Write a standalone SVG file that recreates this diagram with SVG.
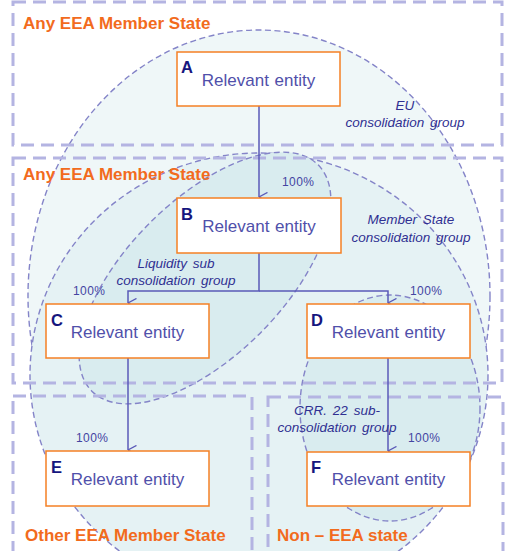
<svg xmlns="http://www.w3.org/2000/svg" width="506" height="551" viewBox="0 0 506 551">
  <defs>
    <style>
      .zone { fill: none; stroke: #b4b4e2; stroke-width: 3; stroke-dasharray: 13 7; }
      .grp { stroke: #8484c8; stroke-width: 1.4; stroke-dasharray: 6 3.5; }
      .box { fill: #ffffff; stroke: #f58025; stroke-width: 1.5; }
      .conn { fill: none; stroke: #5a5ab8; stroke-width: 1.5; }
      .title { font-family: "Liberation Sans", Arial, sans-serif; font-size: 17px; font-weight: bold; fill: #f26b1d; }
      .letter { font-family: "Liberation Sans", Arial, sans-serif; font-size: 16.5px; font-weight: bold; fill: #16167e; }
      .name { font-family: "Liberation Sans", Arial, sans-serif; font-size: 17px; fill: #5050aa; text-anchor: middle; word-spacing: 1px; }
      .pct { font-family: "Liberation Sans", Arial, sans-serif; font-size: 12px; fill: #4444a2; letter-spacing: 0.4px; }
      .lbl { font-family: "Liberation Sans", Arial, sans-serif; font-size: 13.5px; font-style: italic; fill: #303092; text-anchor: middle; word-spacing: 2px; }
    </style>
    <marker id="arrow" viewBox="0 0 10 10" refX="5" refY="10" markerWidth="10" markerHeight="10" markerUnits="userSpaceOnUse" orient="auto-start-reverse">
      <path d="M0.5,1.5 L5,10 L9.5,1.5" fill="none" stroke="#5a5ab8" stroke-width="1.4"/>
    </marker>
  </defs>

  <rect width="506" height="551" fill="#ffffff"/>

  <!-- consolidation groups -->
  <g id="groups">
    <ellipse id="eu-group" class="grp" cx="259" cy="296" rx="231" ry="266" fill="#eff7f8"/>
    <ellipse id="ms-group" class="grp" cx="259" cy="375" rx="229" ry="222" fill="#e5f2f4"/>
    <ellipse id="liquidity-group" class="grp" cx="0" cy="0" rx="160" ry="78" transform="translate(205 278) rotate(-45)" fill="#d9ecef"/>
    <ellipse id="crr-group" class="grp" cx="390" cy="408" rx="90" ry="113" fill="#d9ecef"/>
  </g>

  <!-- jurisdiction zones -->
  <g id="zones">
    <rect class="zone" x="13" y="2" width="489" height="143"/>
    <rect class="zone" x="13" y="158" width="489" height="225"/>
    <rect class="zone" x="13" y="396" width="239" height="170"/>
    <rect class="zone" x="268" y="397" width="235" height="170"/>
  </g>

  <!-- ownership links -->
  <g id="connectors">
    <line class="conn" x1="259" y1="106" x2="259" y2="197" marker-end="url(#arrow)"/>
    <polyline class="conn" points="259,253 259,291 128,291 128,303" marker-end="url(#arrow)"/>
    <polyline class="conn" points="259,291 388,291 388,303" marker-end="url(#arrow)"/>
    <line class="conn" x1="128" y1="358" x2="128" y2="450" marker-end="url(#arrow)"/>
    <line class="conn" x1="388" y1="358" x2="388" y2="451" marker-end="url(#arrow)"/>
  </g>

  <!-- entities -->
  <g id="entity-a">
    <rect class="box" x="177" y="52" width="163" height="54"/>
    <text class="letter" x="181" y="73">A</text>
    <text class="name" x="258.5" y="86">Relevant entity</text>
  </g>
  <g id="entity-b">
    <rect class="box" x="177" y="198" width="164" height="55"/>
    <text class="letter" x="181" y="220">B</text>
    <text class="name" x="259" y="232">Relevant entity</text>
  </g>
  <g id="entity-c">
    <rect class="box" x="46" y="304" width="163" height="54"/>
    <text class="letter" x="51" y="326">C</text>
    <text class="name" x="127.5" y="338">Relevant entity</text>
  </g>
  <g id="entity-d">
    <rect class="box" x="307" y="304" width="163" height="54"/>
    <text class="letter" x="311" y="326">D</text>
    <text class="name" x="388.5" y="338">Relevant entity</text>
  </g>
  <g id="entity-e">
    <rect class="box" x="46" y="451" width="163" height="55"/>
    <text class="letter" x="51" y="473">E</text>
    <text class="name" x="127.5" y="485">Relevant entity</text>
  </g>
  <g id="entity-f">
    <rect class="box" x="307" y="452" width="163" height="54"/>
    <text class="letter" x="311" y="473">F</text>
    <text class="name" x="388.5" y="485">Relevant entity</text>
  </g>

  <!-- holding percentages -->
  <g id="percentages">
    <text class="pct" x="282" y="186">100%</text>
    <text class="pct" x="73" y="295">100%</text>
    <text class="pct" x="410" y="295">100%</text>
    <text class="pct" x="76" y="442">100%</text>
    <text class="pct" x="408" y="442">100%</text>
  </g>

  <!-- group captions -->
  <g id="group-labels">
    <text class="lbl" x="405" y="110">EU</text>
    <text class="lbl" x="405" y="127">consolidation group</text>
    <text class="lbl" x="411" y="224">Member State</text>
    <text class="lbl" x="411" y="242">consolidation group</text>
    <text class="lbl" x="176" y="268">Liquidity sub</text>
    <text class="lbl" x="176" y="285">consolidation group</text>
    <text class="lbl" x="337" y="415">CRR. 22 sub-</text>
    <text class="lbl" x="337" y="432">consolidation group</text>
  </g>

  <!-- zone titles -->
  <g id="zone-titles">
    <text class="title" x="23" y="29">Any EEA Member State</text>
    <text class="title" x="23" y="180">Any EEA Member State</text>
    <text class="title" x="25" y="541">Other EEA Member State</text>
    <text class="title" x="277" y="541">Non – EEA state</text>
  </g>
</svg>
